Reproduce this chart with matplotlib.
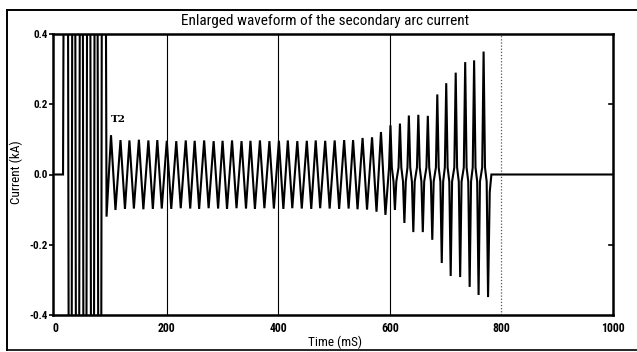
import matplotlib
matplotlib.use("Agg")
import matplotlib.pyplot as plt
from matplotlib.lines import Line2D
from matplotlib import font_manager
import numpy as np

# ---------------- data ----------------
# fault period before T2 (large, clipped oscillation), time in ms, current in kA
fault_t = [0, 14, 20, 27, 33, 40, 47, 53, 60, 67, 73, 80, 86]
fault_i = [0, 0, 3.0, -3.0, 3.0, -3.0, 3.0, -3.0, 3.0, -3.0, 3.0, -3.0, 3.0]

# secondary arc current: positive peaks
arc_peak_t = [100, 117, 133, 150, 167, 183, 200, 217, 234, 250,
              267, 284, 300, 317, 334, 350, 367, 384, 401, 417,
              434, 451, 467, 484, 501, 518, 534, 551, 568, 584,
              601, 618, 634, 651, 668, 685, 701, 718, 735, 751, 768]
arc_peak_i = [0.112, 0.098, 0.097, 0.099, 0.097, 0.098, 0.096, 0.095, 0.097, 0.096,
              0.097, 0.095, 0.096, 0.097, 0.095, 0.096, 0.097, 0.095, 0.096, 0.097,
              0.095, 0.096, 0.097, 0.096, 0.097, 0.098, 0.098, 0.104, 0.106, 0.121,
              0.140, 0.145, 0.168, 0.170, 0.167, 0.228, 0.260, 0.290, 0.320, 0.325, 0.350]
# secondary arc current: negative troughs
arc_trough_t = [108, 125, 141, 158, 175, 191, 208, 225, 242, 258,
                275, 292, 308, 325, 342, 358, 375, 392, 409, 425,
                442, 459, 475, 492, 509, 526, 542, 559, 576, 592,
                609, 626, 642, 659, 676, 693, 709, 726, 743, 759, 776]
arc_trough_i = [-0.101, -0.098, -0.097, -0.099, -0.098, -0.097, -0.098, -0.096, -0.097, -0.098,
                -0.096, -0.097, -0.098, -0.096, -0.097, -0.098, -0.096, -0.097, -0.098, -0.096,
                -0.097, -0.098, -0.096, -0.097, -0.098, -0.097, -0.099, -0.100, -0.106, -0.115,
                -0.101, -0.138, -0.164, -0.164, -0.186, -0.252, -0.289, -0.292, -0.320, -0.343, -0.349]
first_trough = (92, -0.12)          # trough just before the first arc peak
late_start = 601                    # from here the arc current is spiky with a near-zero plateau
plateau_level = 0.02
tail_t = [779, 782, 1000]           # arc extinction and zero current afterwards
tail_i = [-0.05, 0.0, 0.0]

x_ticks = [0, 200, 400, 600, 800, 1000]
y_ticks = [-0.4, -0.2, 0.0, 0.2, 0.4]
y_tick_labels = ["-0.4", "-0.2", "0.0", "0.2", "0.4"]

# ---------------- build trace from the read extrema ----------------
t_tr = list(fault_t) + [first_trough[0]]
i_tr = list(fault_i) + [first_trough[1]]
for k in range(len(arc_peak_t)):
    tp, ip = arc_peak_t[k], arc_peak_i[k]
    tt, it = arc_trough_t[k], arc_trough_i[k]
    late = tp >= late_start
    if late:
        t_tr.append(tp - 2.5); i_tr.append(plateau_level)
    t_tr.append(tp); i_tr.append(ip)
    if late:
        t_tr.append(tp + 2.5); i_tr.append(plateau_level)
        t_tr.append(tt - 2.5); i_tr.append(-plateau_level)
    t_tr.append(tt); i_tr.append(it)
    if late and k < len(arc_peak_t) - 1:
        t_tr.append(tt + 2.5); i_tr.append(-plateau_level)
t_tr += tail_t
i_tr += tail_i

# ---------------- fonts ----------------
available = {f.name for f in font_manager.fontManager.ttflist}
narrow_name = None
for cand in ["Liberation Sans Narrow", "DejaVu Sans Condensed", "Roboto Condensed",
             "Open Sans Condensed", "Noto Sans Condensed"]:
    if cand in available:
        narrow_name = cand
        break
condensed = narrow_name is not None
narrow = [narrow_name, "DejaVu Sans"] if condensed else ["DejaVu Sans"]
scale = 1.0 if condensed else 0.85

# ---------------- figure ----------------
W, H = 637, 352
fig = plt.figure(figsize=(W / 100, H / 100), dpi=100)
fig.patch.set_facecolor("white")

ax = fig.add_axes([53 / W, 1 - 315 / H, (613 - 53) / W, (315 - 34) / H])
ax.set_xlim(-4, 1000)
ax.set_ylim(-0.4, 0.4)

# grid lines
for gx in [200, 400, 600]:
    ax.axvline(gx, color="black", lw=0.8, zorder=1)
ax.axvline(800, color="#555555", lw=0.9, ls=(0, (1, 1.5)), zorder=1)

ax.plot(t_tr, i_tr, color="black", lw=1.5, zorder=3, solid_joinstyle="miter")

for s in ax.spines.values():
    s.set_linewidth(1.8)

ax.set_xticks(x_ticks)
ax.set_xticklabels([str(v) for v in x_ticks], family=narrow, fontsize=8.5 * scale,
                   fontweight="bold")
ax.set_yticks(y_ticks)
ax.set_yticklabels(y_tick_labels, family=narrow, fontsize=8 * scale, fontweight="bold")
ax.tick_params(axis="x", length=0, pad=5)
ax.tick_params(axis="y", direction="out", length=3, width=1.2, pad=1)
# right-side inward ticks
for yv in [0.2, -0.2]:
    ax.plot([992, 1000], [yv, yv], color="black", lw=1.2, clip_on=False, zorder=4)

ax.text(100, 0.158, "T2", family="DejaVu Serif", fontsize=7.5, fontweight="bold",
        ha="left", va="center")

fig.text(335 / W, 1 - 342 / H, "Time (mS)", family=narrow, fontsize=9.5 * scale,
         ha="center", va="center")
fig.text(16 / W, 1 - 172 / H, "Current (kA)", family=narrow, fontsize=9.5 * scale,
         rotation=90, ha="center", va="center")
fig.text(325 / W, 1 - 21 / H, "Enlarged waveform of the secondary arc current",
         family=narrow, fontsize=11 * scale, ha="center", va="center")

# outer frame of the scanned figure
x0, y_top, y_bot = 7 / W, 1 - 10 / H, 1 - 350 / H
fig.add_artist(Line2D([x0, 1], [y_top, y_top], color="black", lw=1.4))
fig.add_artist(Line2D([x0, x0], [y_top, y_bot], color="black", lw=1.4))
fig.add_artist(Line2D([x0, 1], [y_bot, y_bot], color="black", lw=1.2))

fig.savefig("out.png", dpi=100, facecolor="white")
